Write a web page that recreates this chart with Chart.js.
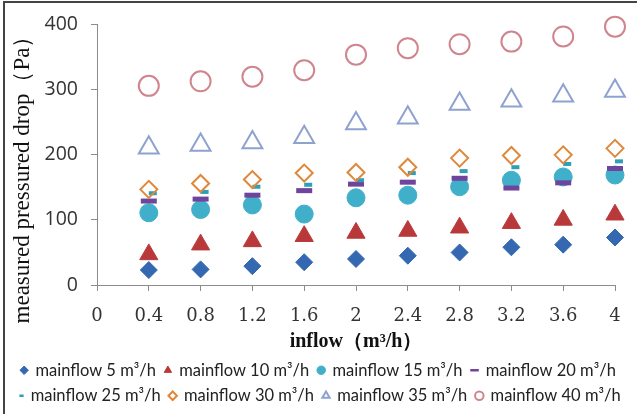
<!DOCTYPE html>
<html>
<head>
<meta charset="utf-8">
<script src="https://cdn.jsdelivr.net/npm/chart.js@4"></script>
<style>
html, body { margin: 0; padding: 0; background: #fff; }
#wrap { position: relative; width: 637px; height: 414px; }
</style>
</head>
<body>
<div id="wrap"><canvas id="chart" width="637" height="414"></canvas></div>
<script>
/* DATA */
const inflow = [0.4, 0.8, 1.2, 1.6, 2, 2.4, 2.8, 3.2, 3.6, 4];
const xTicks = [0, 0.4, 0.8, 1.2, 1.6, 2, 2.4, 2.8, 3.2, 3.6, 4];
const yTicks = [0, 100, 200, 300, 400];

const main5 = [23, 24, 29, 35, 40, 45, 50, 58, 62, 73];
const main10 = [47, 62, 67, 75, 80, 83, 88, 95, 100, 108];
const main15 = [111, 116, 123, 109, 134, 138, 151, 161, 166, 169];
const main20 = [129, 132, 138, 145, 155, 158, 164, 149, 157, 179];
const main25 = [141, 143, 151, 154, 161, 172, 175, 181, 186, 190];
const main30 = [147, 156, 162, 172, 173, 181, 195, 199, 200, 210];
const main35 = [211, 215, 219, 227, 248, 257, 278, 283, 291, 298];
const main40 = [306, 313, 320, 330, 354, 364, 370, 374, 382, 397];

const seriesNames = ['mainflow 5 m³/h', 'mainflow 10 m³/h', 'mainflow 15 m³/h', 'mainflow 20 m³/h',
    'mainflow 25 m³/h', 'mainflow 30 m³/h', 'mainflow 35 m³/h', 'mainflow 40 m³/h'];
const seriesValues = [main5, main10, main15, main20, main25, main30, main35, main40];

const yTitle = 'measured pressured drop（Pa）';
const xTitle = 'inflow（m³/h）';

// marker look for each series
const markers = [
    { style: 'rectRot', radius: 8.5, fill: '#3468B0', border: '#3468B0', width: 1 },
    { style: 'triangle', radius: 10.5, fill: '#B9393A', border: '#B9393A', width: 1 },
    { style: 'circle', radius: 9, fill: '#40B0CA', border: '#40B0CA', width: 1 },
    { style: 'line', radius: 8, fill: '#6E449C', border: '#6E449C', width: 5 },
    { style: 'dash', radius: 8, fill: '#2E9FB8', border: '#2E9FB8', width: 4 },
    { style: 'rectRot', radius: 8.5, fill: 'rgba(0,0,0,0)', border: '#E0883A', width: 2 },
    { style: 'triangle', radius: 11.5, fill: 'rgba(0,0,0,0)', border: '#8EA2D0', width: 2 },
    { style: 'circle', radius: 10, fill: 'rgba(0,0,0,0)', border: '#D0848E', width: 2 },
];

const datasets = seriesValues.map((vals, i) => ({
    label: seriesNames[i],
    data: inflow.map((x, j) => ({ x: x, y: vals[j] })),
    showLine: false,
    clip: false,
    pointStyle: markers[i].style,
    pointRadius: markers[i].radius,
    pointHoverRadius: markers[i].radius,
    pointBackgroundColor: markers[i].fill,
    pointBorderColor: markers[i].border,
    pointBorderWidth: markers[i].width,
    order: 8 - i, // later series on top, like the original
}));

/* FRAME + Y TITLE */
const framePlugin = {
    id: 'frame',
    beforeDraw(chart) {
        const ctx = chart.ctx;
        ctx.save();
        ctx.strokeStyle = '#444';
        ctx.lineWidth = 2;
        ctx.beginPath();
        ctx.moveTo(4, 414);
        ctx.lineTo(4, 2);
        ctx.lineTo(637, 2);
        ctx.stroke();
        ctx.restore();
    },
    afterDraw(chart) {
        // y title sits a bit below the middle of the axis in the original
        const ctx = chart.ctx;
        ctx.save();
        ctx.translate(23, 174);
        ctx.rotate(-Math.PI / 2);
        ctx.textAlign = 'center';
        ctx.textBaseline = 'middle';
        ctx.fillStyle = '#111';
        ctx.font = '23px "Liberation Serif", serif';
        ctx.fillText(yTitle, 0, 0);
        ctx.restore();
    }
};

const axisColor = '#8c8c8c';

// thinner dash markers in the legend
function legendLabels(chart) {
    const items = Chart.defaults.plugins.legend.labels.generateLabels(chart);
    items.forEach(item => {
        if (item.pointStyle === 'line' || item.pointStyle === 'dash') {
            item.lineWidth = 2.5;
        }
    });
    return items;
}

const chart = new Chart(document.getElementById('chart').getContext('2d'), {
    type: 'scatter',
    data: { datasets: datasets },
    options: {
        responsive: false,
        animation: false,
        layout: { padding: { top: 23, right: 0, left: 0, bottom: 0 } },
        scales: {
            x: {
                type: 'linear',
                min: 0,
                max: 4,
                afterBuildTicks: (scale) => { scale.ticks = xTicks.map(v => ({ value: v })); },
                afterFit: (scale) => { scale.height = 68; scale.paddingRight = 22; },
                grid: { display: true, drawOnChartArea: false, drawTicks: true, tickLength: 6, color: axisColor },
                border: { display: true, color: axisColor, width: 1 },
                ticks: {
                    color: '#333',
                    padding: 15,
                    maxRotation: 0,
                    font: { family: '"DejaVu Serif", serif', size: 18 },
                    callback: (v) => String(v),
                },
                title: {
                    display: true,
                    text: xTitle,
                    color: '#111',
                    padding: { top: 0, bottom: -1 },
                    font: { family: '"Liberation Serif", serif', size: 20, weight: 'bold' },
                },
            },
            y: {
                type: 'linear',
                min: 0,
                max: 400,
                afterBuildTicks: (scale) => { scale.ticks = yTicks.map(v => ({ value: v })); },
                afterFit: (scale) => { scale.width = 97; },
                grid: { display: true, drawOnChartArea: false, drawTicks: true, tickLength: 6, color: axisColor },
                border: { display: true, color: axisColor, width: 1 },
                ticks: {
                    color: '#333',
                    padding: 13,
                    font: { family: '"Open Sans", sans-serif', size: 19.5 },
                },
                title: { display: false },
            },
        },
        plugins: {
            legend: {
                display: true,
                position: 'bottom',
                labels: {
                    usePointStyle: true,
                    boxWidth: 6,
                    boxHeight: 6,
                    padding: 9,
                    color: '#222',
                    font: { family: 'Lato, sans-serif', size: 16.5 },
                    sort: (a, b) => a.datasetIndex - b.datasetIndex,
                    generateLabels: legendLabels,
                },
            },
            tooltip: { enabled: false },
        },
    },
    plugins: [framePlugin],
});
</script>
</body>
</html>
